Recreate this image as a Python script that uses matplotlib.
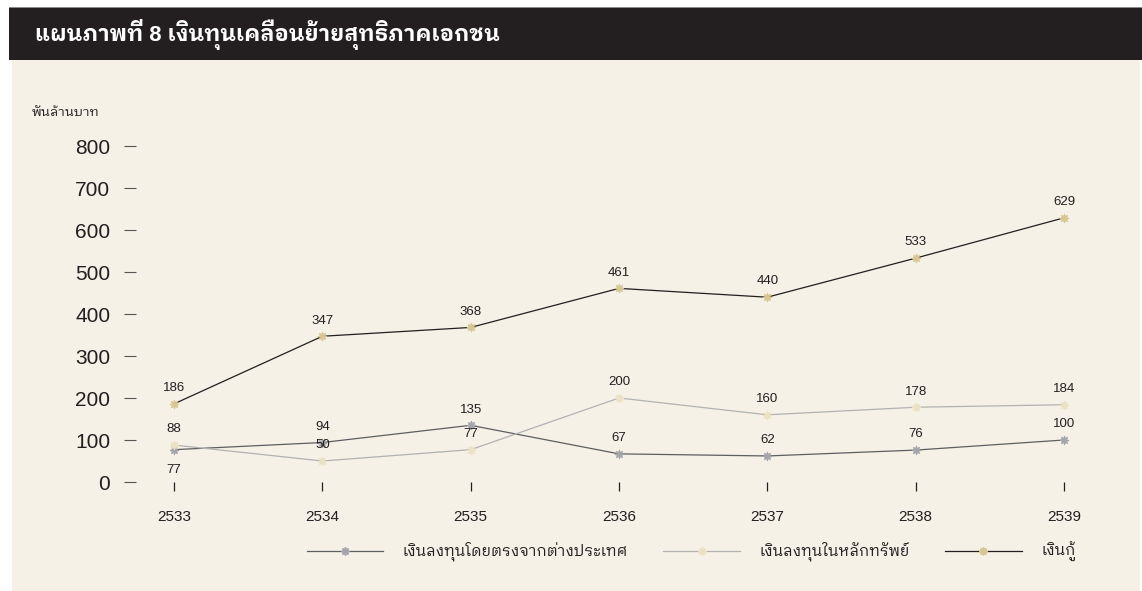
import matplotlib
matplotlib.use("Agg")
import matplotlib.pyplot as plt
from matplotlib.lines import Line2D
from matplotlib.patches import Rectangle

# Thai text falls through to the looped Thai family, digits stay in the Helvetica-like one
plt.rcParams['font.family'] = ['Liberation Sans', 'IBM Plex Sans Thai Looped']

years = [2533, 2534, 2535, 2536, 2537, 2538, 2539]
fdi = [77, 94, 135, 67, 62, 76, 100]
portfolio = [88, 50, 77, 200, 160, 178, 184]
loans = [186, 347, 368, 461, 440, 533, 629]

yticks = [0, 100, 200, 300, 400, 500, 600, 700, 800]
series_names = ["เงินลงทุนโดยตรงจากต่างประเทศ", "เงินลงทุนในหลักทรัพย์", "เงินกู้"]
title = "แผนภาพที่ 8 เงินทุนเคลื่อนย้ายสุทธิภาคเอกชน"
unit = "พันล้านบาท"

cream = "#f5f1e6"
dark = "#231f20"
star = (8, 1, 0)

W, H = 1142, 591
fig = plt.figure(figsize=(W / 100, H / 100), dpi=100)
fig.patch.set_facecolor("white")

def box(x0, y0, x1, y1):
    # pixel box (top-left origin) -> figure fraction rect
    return [x0 / W, 1 - y1 / H, (x1 - x0) / W, (y1 - y0) / H]

# background panels
fig.add_artist(Rectangle((12 / W, 0), 1128 / W, 1 - 60 / H, transform=fig.transFigure,
                         facecolor=cream, edgecolor="none", zorder=0))
fig.add_artist(Rectangle((9 / W, 1 - 60 / H), 1133 / W, 52 / H, transform=fig.transFigure,
                         facecolor=dark, edgecolor="none", zorder=0))
fig.add_artist(Rectangle((9 / W, 1 - 8 / H), 1133 / W, 1.5 / H, transform=fig.transFigure,
                         facecolor="#8a8a8a", edgecolor="none", zorder=0))

fig.text(35 / W, 1 - 35 / H, title, color="white", fontsize=15.8, fontweight="bold",
         va="center", ha="left")
fig.text(32 / W, 1 - 113 / H, unit, color=dark, fontsize=9.5, va="center", ha="left")

# axes: x-axis at y=0 (px 482), 800 at px 146; 2533 at px 174, 2539 at px 1064
ax = fig.add_axes(box(136, 146, 1100, 482))
ax.set_facecolor("none")
px_per_year = (1064 - 174) / 6
ax.set_xlim(2533 - (174 - 136) / px_per_year, 2539 + (1100 - 1064) / px_per_year)
ax.set_ylim(0, 800)
for s in ax.spines.values():
    s.set_visible(False)

ax.set_yticks(yticks)
ax.set_xticks(years)
ax.tick_params(axis="y", direction="out", length=8.5, width=0.8, color="#555555",
               pad=10, labelsize=15, labelcolor=dark)
ax.tick_params(axis="x", direction="out", length=6.5, width=0.9, color=dark,
               pad=14, labelsize=11, labelcolor=dark)

styles = [
    (fdi, "#5d5e60", "#a3a5a9", 0.9),
    (portfolio, "#b2b2b2", "#ebe1c3", 0.9),
    (loans, dark, "#d8c690", 0.9),
]
handles = []
for vals, lc, mc, lw in styles:
    ax.plot(years, vals, color=lc, lw=lw, marker=star, markersize=6.5,
            markerfacecolor=mc, markeredgecolor=mc, markeredgewidth=0.6,
            clip_on=False, zorder=3)
    handles.append(Line2D([], [], color=lc, lw=lw, marker=star, markersize=6,
                          markerfacecolor=mc, markeredgecolor=mc))

# value labels; the first FDI point sits under the portfolio point
for i, vals in enumerate([fdi, portfolio, loans]):
    for x, v in zip(years, vals):
        below = (i == 0 and x == 2533)
        ax.annotate(str(v), (x, v), xytext=(0, -10 if below else 7),
                    textcoords="offset points", ha="center",
                    va="top" if below else "bottom", fontsize=9.5, color=dark)

fig.legend(handles, series_names, loc="center left", bbox_to_anchor=(293 / W, 1 - 552 / H),
           ncol=3, frameon=False, fontsize=11, handlelength=5.0, handletextpad=1.3,
           columnspacing=2.3, labelcolor=dark)

fig.savefig("out.png", dpi=100)
